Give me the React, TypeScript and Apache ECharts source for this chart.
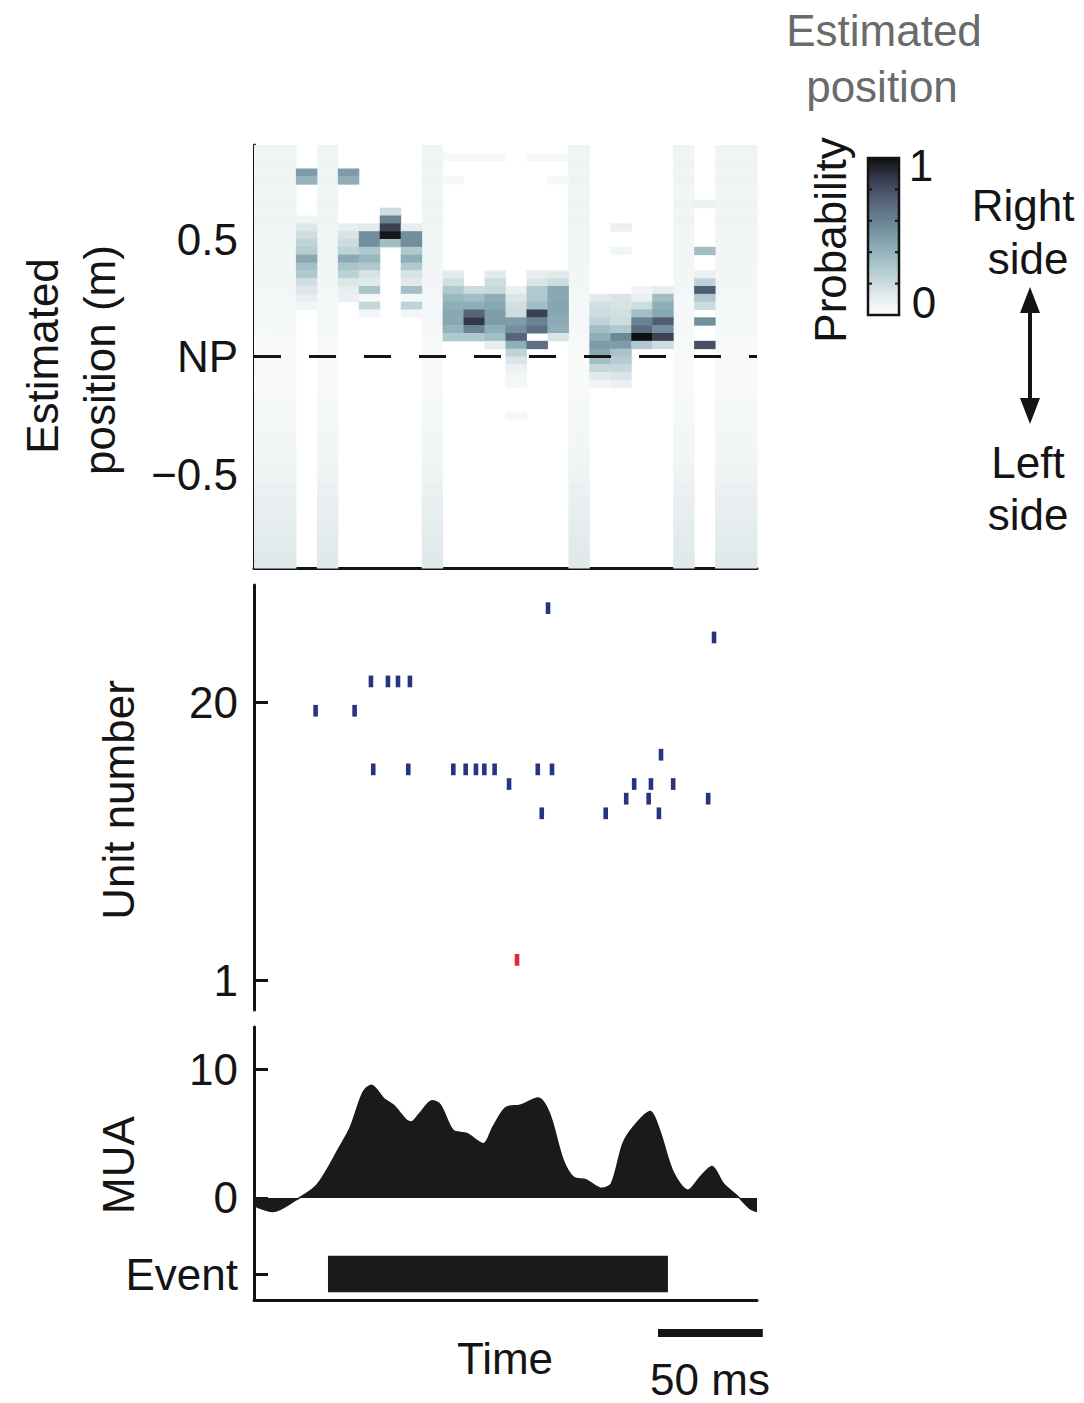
import React, { useEffect, useRef } from "react";
import * as echarts from "echarts";

const FONT = '"Liberation Sans", Arial, Helvetica, sans-serif';
const INK = "#141414";
const FS = 44;

// ---------- time axis (ms) ----------
const TIME_MIN = 0;
const TIME_MAX = 240;
const BIN_MS = 10;

// ---------- decoded position heat map ----------
const POS_MIN = -0.9;
const POS_MAX = 0.9;
const POS_BIN = 1 / 30;
const POS_TICKS = [-0.5, 0.5];
const POS_LABEL_VALUES = [-0.5, 0, 0.5];
const POS_LABELS = ["\u22120.5", "NP", "0.5"];
const NP_VALUE = 0;

const PROB_COLORS = ["#ffffff", "#dce6e8", "#b3ccd1", "#8cacb6", "#6d8a99", "#58667c", "#3a3f52", "#101010"];

// columns (10 ms bins) without spikes: broad faint distribution
const FAINT_COLS = [0, 1, 3, 8, 15, 20, 22, 23];
// faint profile, position rows k = -27 (bottom) ... 26 (top)
const FAINT_PROFILE = [
  0.13, 0.13, 0.12, 0.12, 0.11, 0.11,
  0.1, 0.09, 0.09, 0.08, 0.08, 0.07, 0.07,
  0.06, 0.06, 0.05, 0.05, 0.05, 0.04, 0.04,
  0.04, 0.04, 0.03, 0.03, 0.03, 0.03, 0.03, 0.03, 0.03, 0.03, 0.04, 0.04, 0.04, 0.04,
  0.04, 0.05, 0.05, 0.05, 0.05, 0.06, 0.06, 0.06,
  0.06, 0.06, 0.07, 0.06, 0.07, 0.06, 0.06, 0.07, 0.06, 0.07, 0.06, 0.07,
];

// active columns: [row k, probability]  (row k spans k/30 .. (k+1)/30 m)
const COL_02 = [[23, 0.5], [22, 0.4], [17, 0.06], [16, 0.14], [15, 0.2], [14, 0.24], [13, 0.28], [12, 0.45], [11, 0.34], [10, 0.3], [9, 0.18], [8, 0.14], [7, 0.1], [6, 0.06]];
const COL_04 = [[23, 0.5], [22, 0.42], [16, 0.1], [15, 0.16], [14, 0.2], [13, 0.25], [12, 0.44], [11, 0.32], [10, 0.26], [9, 0.14], [8, 0.1], [7, 0.08]];
const COL_05 = [[16, 0.12], [15, 0.55], [14, 0.55], [13, 0.3], [12, 0.38], [11, 0.3], [10, 0.16], [9, 0.12], [8, 0.32], [7, 0.04], [6, 0.22], [5, 0.05]];
const COL_06 = [[18, 0.2], [17, 0.6], [16, 0.85], [15, 0.98], [14, 0.35]];
const COL_07 = [[16, 0.1], [15, 0.55], [14, 0.55], [13, 0.3], [12, 0.42], [11, 0.3], [10, 0.16], [9, 0.12], [8, 0.34], [7, 0.04], [6, 0.25], [5, 0.05]];
const COL_09 = [[25, 0.04], [22, 0.04], [10, 0.12], [9, 0.18], [8, 0.3], [7, 0.38], [6, 0.42], [5, 0.45], [4, 0.45], [3, 0.4], [2, 0.3]];
const COL_10 = [[25, 0.04], [8, 0.2], [7, 0.35], [6, 0.42], [5, 0.72], [4, 0.88], [3, 0.6], [2, 0.3]];
const COL_11 = [[25, 0.04], [10, 0.12], [9, 0.2], [8, 0.22], [7, 0.42], [6, 0.45], [5, 0.5], [4, 0.5], [3, 0.42], [2, 0.35], [1, 0.1]];
const COL_12 = [[8, 0.08], [7, 0.15], [6, 0.18], [5, 0.2], [4, 0.5], [3, 0.55], [2, 0.72], [1, 0.42], [0, 0.25], [-1, 0.15], [-2, 0.08], [-3, 0.05], [-4, 0.04], [-8, 0.04]];
const COL_13 = [[25, 0.04], [10, 0.1], [9, 0.15], [8, 0.3], [7, 0.3], [6, 0.35], [5, 0.85], [4, 0.6], [3, 0.68], [1, 0.68]];
const COL_14 = [[25, 0.04], [22, 0.04], [10, 0.12], [9, 0.2], [8, 0.45], [7, 0.44], [6, 0.46], [5, 0.45], [4, 0.44], [3, 0.42], [2, 0.15]];
const COL_16 = [[7, 0.12], [6, 0.18], [5, 0.2], [4, 0.25], [3, 0.35], [2, 0.42], [1, 0.5], [0, 0.45], [-1, 0.35], [-2, 0.22], [-3, 0.12], [-4, 0.06]];
const COL_17 = [[16, 0.08], [13, 0.06], [7, 0.15], [6, 0.16], [5, 0.18], [4, 0.2], [3, 0.3], [2, 0.58], [1, 0.5], [0, 0.32], [-1, 0.28], [-2, 0.22], [-3, 0.15], [-4, 0.08]];
const COL_18 = [[8, 0.06], [7, 0.08], [6, 0.2], [5, 0.35], [4, 0.6], [3, 0.7], [2, 1.0], [1, 0.3]];
const COL_19 = [[8, 0.1], [7, 0.35], [6, 0.42], [5, 0.45], [4, 0.75], [3, 0.55], [2, 0.85], [1, 0.2]];
const COL_21 = [[19, 0.08], [13, 0.35], [10, 0.08], [9, 0.25], [8, 0.75], [7, 0.3], [6, 0.2], [4, 0.55], [1, 0.8]];
const ACTIVE_COLS: [number, number[][]][] = [
  [2, COL_02], [4, COL_04], [5, COL_05], [6, COL_06], [7, COL_07], [9, COL_09], [10, COL_10],
  [11, COL_11], [12, COL_12], [13, COL_13], [14, COL_14], [16, COL_16], [17, COL_17],
  [18, COL_18], [19, COL_19], [21, COL_21],
];

// ---------- spike raster ----------
const UNIT_MIN = -1;
const UNIT_MAX = 28;
const UNIT_TICKS = [1, 20];
const SPIKE_TIMES = [
  140.3, 219.5,
  55.8, 63.9, 68.7, 74.4,
  29.4, 48.0,
  194.2,
  56.9, 73.6, 95.1, 101.0, 105.9, 109.9, 114.8, 135.4, 142.2,
  121.7, 181.4, 189.4, 200.0,
  177.6, 188.3, 216.7,
  137.3, 167.8, 193.2,
];
const SPIKE_UNITS = [
  27, 25,
  22, 22, 22, 22,
  20, 20,
  17,
  16, 16, 16, 16, 16, 16, 16, 16, 16,
  15, 15, 15, 15,
  14, 14, 14,
  13, 13, 13,
];
const RED_SPIKE_TIMES = [125.5];
const RED_SPIKE_UNITS = [3];

// ---------- multi-unit activity ----------
const MUA_MIN = -1.32;
const MUA_MAX = 13.26;
const MUA_TICKS = [0, 10];
const MUA_TIMES = [0, 9, 20, 30, 41, 46, 52, 56, 62, 66.5, 73, 75, 79, 85, 89, 95, 101.5, 109.5, 114, 120, 127, 135.5, 141, 147.5, 152.5, 158.5, 166, 170.5, 176, 181, 189, 193.5, 200, 207, 213, 218.5, 224, 231, 236.5, 240];
const MUA_VALUES = [-0.6, -1.05, -0.15, 1.0, 4.0, 5.5, 8.2, 8.75, 7.7, 7.2, 6.0, 5.9, 6.55, 7.55, 7.2, 5.25, 5.0, 4.2, 5.5, 7.0, 7.2, 7.75, 6.55, 2.95, 1.6, 1.4, 0.75, 1.1, 4.2, 5.5, 6.7, 5.25, 2.0, 0.6, 1.65, 2.45, 1.1, 0.1, -0.8, -1.05];

// ---------- event ----------
const EVENT_START = 35.3;
const EVENT_END = 197.5;
const EVENT_TICK = [0.3];
const EVENT_BAR = [0.09, 0.52];
const SCALE_MS = 50;

const GRIDS = [
  { left: 254, top: 145, width: 503, height: 423 },
  { left: 254, top: 585, width: 503, height: 425 },
  { left: 254, top: 1027, width: 503, height: 188 },
  { left: 254, top: 1215, width: 503, height: 85 },
];

function buildHeat() {
  const out: number[][] = [];
  for (const c of FAINT_COLS) {
    FAINT_PROFILE.forEach((v, i) => out.push([c * BIN_MS, (i - 27) * POS_BIN, v]));
  }
  for (const [c, cells] of ACTIVE_COLS) {
    for (const [k, v] of cells) out.push([c * BIN_MS, k * POS_BIN, v]);
  }
  return out;
}

function yAxisDef(gridIndex: number, min: number, max: number, ticks: number[], labels: number[], fmt: (v: number) => string) {
  return {
    type: "value",
    gridIndex,
    min,
    max,
    axisLine: { show: true, onZero: false, lineStyle: { color: INK, width: 3 } },
    axisTick: { show: true, inside: true, length: 14, lineStyle: { color: INK, width: 3 }, customValues: ticks },
    axisLabel: { show: true, customValues: labels, formatter: fmt, fontSize: FS, fontFamily: FONT, color: INK, margin: 16 },
    splitLine: { show: false },
  };
}

function xAxisDef(gridIndex: number, showLine: boolean) {
  return {
    type: "value",
    gridIndex,
    min: TIME_MIN,
    max: TIME_MAX,
    axisLine: { show: showLine, onZero: false, lineStyle: { color: INK, width: 3 } },
    axisTick: { show: false },
    axisLabel: { show: false },
    splitLine: { show: false },
  };
}

function txt(text: string, x: number, y: number, opts: any = {}) {
  return {
    type: "text",
    x,
    y,
    rotation: opts.rotation || 0,
    z: 10,
    style: {
      text,
      fontSize: opts.fontSize || FS,
      fontFamily: FONT,
      fill: opts.fill || INK,
      textAlign: "center",
      textVerticalAlign: "middle",
      align: "center",
      verticalAlign: "middle",
    },
  };
}

export default function App() {
  const ref = useRef<HTMLDivElement>(null);
  useEffect(() => {
    if (!ref.current) return;
    const chart = echarts.init(ref.current, null, { renderer: "svg" });
    const spikeItem = (color: string) => (params: any, api: any) => {
      const t = api.value(0);
      const u = api.value(1);
      const top = api.coord([t, u - 0.18]);
      const bot = api.coord([t, u - 0.98]);
      return { type: "rect", shape: { x: top[0] - 2.3, y: top[1], width: 4.6, height: bot[1] - top[1] }, style: { fill: color } };
    };
    const option: any = {
      animation: false,
      backgroundColor: "#ffffff",
      grid: GRIDS.map((g) => ({ ...g, containLabel: false })),
      xAxis: [xAxisDef(0, true), xAxisDef(1, false), xAxisDef(2, false), xAxisDef(3, true)],
      yAxis: [
        yAxisDef(0, POS_MIN, POS_MAX, POS_TICKS, POS_LABEL_VALUES, (v) => POS_LABELS[POS_LABEL_VALUES.findIndex((p) => Math.abs(p - v) < 1e-6)] ?? ""),
        yAxisDef(1, UNIT_MIN, UNIT_MAX, UNIT_TICKS, UNIT_TICKS, (v) => String(Math.round(v))),
        yAxisDef(2, MUA_MIN, MUA_MAX, MUA_TICKS, MUA_TICKS, (v) => String(Math.round(v))),
        yAxisDef(3, 0, 1, EVENT_TICK, EVENT_TICK, () => "Event"),
      ],
      visualMap: {
        type: "continuous",
        show: false,
        min: 0,
        max: 1,
        dimension: 2,
        seriesIndex: 0,
        inRange: { color: PROB_COLORS },
      },
      series: [
        {
          type: "custom",
          xAxisIndex: 0,
          yAxisIndex: 0,
          data: buildHeat(),
          renderItem: (params: any, api: any) => {
            const t = api.value(0);
            const p = api.value(1);
            const a = api.coord([t, p + POS_BIN]);
            const b = api.coord([t + BIN_MS, p]);
            return {
              type: "rect",
              shape: { x: a[0], y: a[1], width: b[0] - a[0] + 0.5, height: b[1] - a[1] + 0.5 },
              style: { fill: api.visual("color") },
            };
          },
          markLine: {
            silent: true,
            symbol: ["none", "none"],
            label: { show: false },
            lineStyle: { color: INK, width: 3, type: [27, 28] },
            data: [{ yAxis: NP_VALUE }],
            z: 5,
          },
        },
        {
          type: "custom",
          xAxisIndex: 1,
          yAxisIndex: 1,
          data: SPIKE_TIMES.map((t, i) => [t, SPIKE_UNITS[i]]),
          renderItem: spikeItem("#27357f"),
        },
        {
          type: "custom",
          xAxisIndex: 1,
          yAxisIndex: 1,
          data: RED_SPIKE_TIMES.map((t, i) => [t, RED_SPIKE_UNITS[i]]),
          renderItem: spikeItem("#e02b25"),
        },
        {
          type: "line",
          xAxisIndex: 2,
          yAxisIndex: 2,
          data: MUA_TIMES.map((t, i) => [t, MUA_VALUES[i]]),
          smooth: 0.3,
          symbol: "none",
          lineStyle: { color: "#1a1a1a", width: 1.5 },
          areaStyle: { color: "#1a1a1a", opacity: 1 },
        },
        {
          type: "custom",
          xAxisIndex: 3,
          yAxisIndex: 3,
          data: [[EVENT_START, EVENT_END]],
          renderItem: (params: any, api: any) => {
            const a = api.coord([api.value(0), EVENT_BAR[1]]);
            const b = api.coord([api.value(1), EVENT_BAR[0]]);
            return { type: "rect", shape: { x: a[0], y: a[1], width: b[0] - a[0], height: b[1] - a[1] }, style: { fill: "#1a1a1a" } };
          },
        },
      ],
    };
    chart.setOption(option);

    const px0 = chart.convertToPixel({ xAxisIndex: 3 }, 0) as number;
    const px50 = chart.convertToPixel({ xAxisIndex: 3 }, SCALE_MS) as number;
    const scaleW = px50 - px0;

    const cb = { x: 868, y: 158, w: 31, h: 157 };
    const stops = PROB_COLORS.map((c, i) => ({ offset: i / (PROB_COLORS.length - 1), color: c }));
    const cbTicks: any[] = [];
    for (let i = 1; i < 5; i++) {
      const y = cb.y + (cb.h * i) / 5;
      cbTicks.push({ type: "line", z: 11, shape: { x1: cb.x, y1: y, x2: cb.x + 4, y2: y }, style: { stroke: INK, lineWidth: 2 } });
      cbTicks.push({ type: "line", z: 11, shape: { x1: cb.x + cb.w - 4, y1: y, x2: cb.x + cb.w, y2: y }, style: { stroke: INK, lineWidth: 2 } });
    }

    chart.setOption({
      graphic: [
        // top-right title
        txt("Estimated", 884, 30, { fill: "#6a6a6a" }),
        txt("position", 882, 86, { fill: "#6a6a6a" }),
        // colour bar
        {
          type: "rect",
          z: 10,
          shape: { x: cb.x, y: cb.y, width: cb.w, height: cb.h },
          style: { fill: { type: "linear", x: 0, y: 1, x2: 0, y2: 0, colorStops: stops }, stroke: INK, lineWidth: 2.5 },
        },
        ...cbTicks,
        txt("Probability", 830, 240, { rotation: Math.PI / 2 }),
        txt("1", 921, 165),
        txt("0", 924, 302),
        // side labels and arrow
        txt("Right", 1023, 205),
        txt("side", 1028, 258),
        txt("Left", 1028, 462),
        txt("side", 1028, 514),
        { type: "line", z: 10, shape: { x1: 1030, y1: 305, x2: 1030, y2: 405 }, style: { stroke: INK, lineWidth: 4 } },
        { type: "polygon", z: 10, shape: { points: [[1030, 287], [1020, 313], [1040, 313]] }, style: { fill: INK } },
        { type: "polygon", z: 10, shape: { points: [[1030, 424], [1020, 398], [1040, 398]] }, style: { fill: INK } },
        // axis titles
        txt("Estimated", 42, 356, { rotation: Math.PI / 2 }),
        txt("position (m)", 99, 360, { rotation: Math.PI / 2 }),
        txt("Unit number", 118, 800, { rotation: Math.PI / 2 }),
        txt("MUA", 118, 1165, { rotation: Math.PI / 2 }),
        txt("Time", 505, 1358),
        // scale bar
        { type: "rect", z: 10, shape: { x: 658, y: 1329, width: scaleW, height: 8 }, style: { fill: INK } },
        txt("50 ms", 710, 1379),
      ],
    });

    return () => chart.dispose();
  }, []);
  return <div ref={ref} style={{ position: "absolute", left: 0, top: 0, width: 1084, height: 1403, background: "#fff" }} />;
}
